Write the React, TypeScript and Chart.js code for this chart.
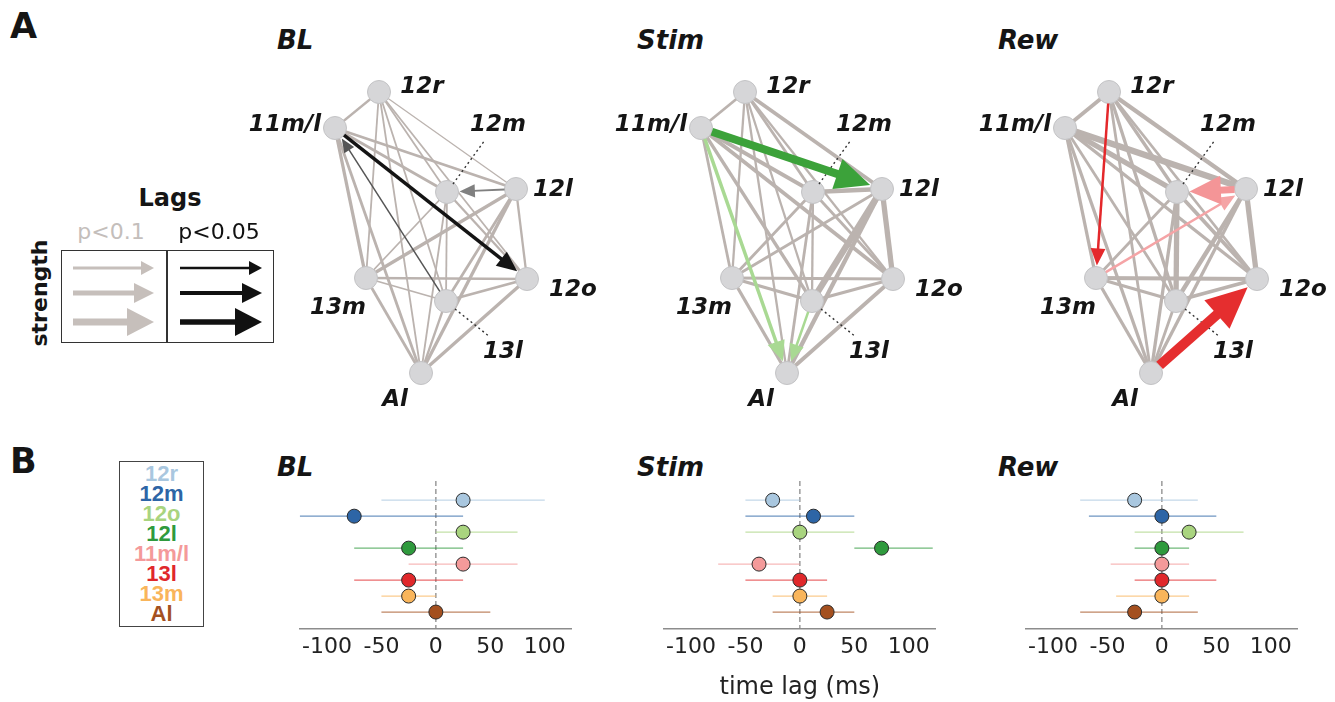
import React, { useEffect, useRef } from "react";
import { Chart, registerables } from "chart.js";
Chart.register(...registerables);
Chart.defaults.font.family = '"DejaVu Sans", sans-serif';

// ---------------- Panel A : networks ----------------
const NODE_NAMES = ["12r", "11m/l", "12m", "12l", "12o", "13m", "13l", "Al"];
const NODE_X = [44, 0, 112, 181, 192, 31, 111, 86];
const NODE_Y = [0, 36, 100, 97, 187, 186, 209, 281];

const EDGE_FROM = [0, 0, 0, 0, 0, 0, 0, 1, 1, 1, 1, 1, 1, 2, 2, 2, 2, 2, 3, 3, 3, 3, 4, 4, 4, 5, 5, 6];
const EDGE_TO = [1, 2, 3, 4, 5, 6, 7, 2, 3, 4, 5, 6, 7, 3, 4, 5, 6, 7, 4, 5, 6, 7, 5, 6, 7, 6, 7, 7];

const BL_EDGE_WIDTH = [2, 1.5, 1, 1.5, 1.5, 1.5, 1.5, 2.5, 2.5, 0, 3, 0, 2.5, 0, 2, 1.5, 1.5, 1.5, 2, 3, 2.5, 3, 2, 2.5, 3, 1.5, 2.5, 2];
const STIM_EDGE_WIDTH = [2.5, 2.5, 3.5, 2, 2, 2, 2, 3.5, 0, 3.5, 2.5, 3, 0, 4, 2.5, 2.5, 2, 2.5, 5, 2.5, 6, 4, 2.5, 3, 3.5, 3, 3, 0];
const REW_EDGE_WIDTH = [3.5, 3, 4, 2.5, 0, 3, 2.5, 5, 6, 3, 3, 2.5, 3, 0, 3.5, 2.5, 5, 3, 5, 0, 4, 3, 3.5, 3.5, 0, 3, 3, 2.5];

// significant lags (arrows): from -> to, strength
const BL_ARROW_FROM = [1, 6, 3];
const BL_ARROW_TO = [4, 1, 2];
const BL_ARROW_WIDTH = [3.5, 1.5, 2];
const BL_ARROW_COLOR = ["#141414", "#555555", "#808080"];

const STIM_ARROW_FROM = [1, 1, 6];
const STIM_ARROW_TO = [3, 7, 7];
const STIM_ARROW_WIDTH = [8, 3.5, 2.5];
const STIM_ARROW_COLOR = ["#3ca23a", "#a9d993", "#a9d993"];

const REW_ARROW_FROM = [0, 5, 3, 7];
const REW_ARROW_TO = [5, 3, 2, 4];
const REW_ARROW_WIDTH = [2.5, 2.5, 7, 10];
const REW_ARROW_COLOR = ["#e4282b", "#f5a4a6", "#f49597", "#e52e2f"];

// ---------------- Panel B : lags ----------------
const ROWS = ["12r", "12m", "12o", "12l", "11m/l", "13l", "13m", "Al"];
const ROW_COLORS = ["#a9c7df", "#2d65a6", "#a9d47f", "#2f9a3d", "#f49a9a", "#e0282b", "#f9b55b", "#a4501f"];
const LAG_TICKS = [-100, -50, 0, 50, 100];

const BL_LAG = [25, -75, 25, -25, 25, -25, -25, 0];
const BL_LO = [-50, -125, 0, -75, -25, -75, -50, -50];
const BL_HI = [100, 25, 75, 25, 75, 25, 0, 50];

const STIM_LAG = [-25, 12.5, 0, 75, -37.5, 0, 0, 25];
const STIM_LO = [-50, -50, -50, 50, -75, -50, -25, -25];
const STIM_HI = [0, 50, 50, 122, 0, 25, 25, 50];

const REW_LAG = [-25, 0, 25, 0, 0, 0, 0, -25];
const REW_LO = [-75, -67, -25, -25, -47, -25, -42, -75];
const REW_HI = [33, 50, 75, 25, 25, 50, 25, 33];

// ---------------- layout / style constants ----------------
const EDGE_COLOR = "#bbb3af";
const NODE_R = 11.5;
const LABEL_DX = [43, -50, 51, 37, 46, -28, 57, -26];
const LABEL_DY = [-5, -3, -67, 1, 11, 30, 51, 27];
const LEADERS = [
  { node: 2, x0: 6, y0: -8, x1: 38, y1: -52 },
  { node: 6, x0: 9, y0: 8, x1: 44, y1: 36 },
];

function drawArrow(ctx: CanvasRenderingContext2D, x0: number, y0: number, x1: number, y1: number,
  w: number, headLen: number, headW: number, color: string, startGap: number, endGap: number) {
  const dx = x1 - x0, dy = y1 - y0;
  const L = Math.hypot(dx, dy);
  const ux = dx / L, uy = dy / L, nx = -uy, ny = ux;
  const sx = x0 + ux * startGap, sy = y0 + uy * startGap;
  const tx = x1 - ux * endGap, ty = y1 - uy * endGap;
  const bx = tx - ux * headLen, by = ty - uy * headLen;
  ctx.save();
  ctx.strokeStyle = color;
  ctx.fillStyle = color;
  ctx.lineWidth = w;
  ctx.lineCap = "butt";
  ctx.beginPath();
  ctx.moveTo(sx, sy);
  ctx.lineTo(bx + ux * 2, by + uy * 2);
  ctx.stroke();
  ctx.beginPath();
  ctx.moveTo(tx, ty);
  ctx.lineTo(bx + nx * headW / 2, by + ny * headW / 2);
  ctx.lineTo(bx - nx * headW / 2, by - ny * headW / 2);
  ctx.closePath();
  ctx.fill();
  ctx.restore();
}

function headSize(w: number) {
  return { len: 9 + w * 3.2, wid: 7 + w * 3.1 };
}

const netPlugin = {
  id: "netDecor",
  afterDatasetsDraw(chart: any, _args: any, opts: any) {
    const { ctx } = chart;
    const sx = chart.scales.x, sy = chart.scales.y;
    const px = (i: number) => sx.getPixelForValue(NODE_X[i]);
    const py = (i: number) => sy.getPixelForValue(NODE_Y[i]);
    ctx.save();
    ctx.setLineDash([2, 3]);
    ctx.strokeStyle = "#333";
    ctx.lineWidth = 1.4;
    LEADERS.forEach((l) => {
      ctx.beginPath();
      ctx.moveTo(px(l.node) + l.x0, py(l.node) + l.y0);
      ctx.lineTo(px(l.node) + l.x1, py(l.node) + l.y1);
      ctx.stroke();
    });
    ctx.restore();
    const a = opts.arrows;
    a.from.forEach((f: number, k: number) => {
      const t = a.to[k];
      const h = headSize(a.width[k]);
      drawArrow(ctx, px(f), py(f), px(t), py(t), a.width[k], h.len, h.wid, a.color[k], NODE_R, NODE_R + 1);
    });
    ctx.save();
    ctx.font = 'italic bold 23px "DejaVu Sans"';
    ctx.fillStyle = "#151515";
    ctx.textAlign = "center";
    ctx.textBaseline = "middle";
    NODE_NAMES.forEach((n, i) => ctx.fillText(n, px(i) + LABEL_DX[i], py(i) + LABEL_DY[i]));
    ctx.restore();
  },
};

function buildNet(canvas: HTMLCanvasElement, widths: number[], arrows: any, w: number, h: number) {
  const datasets: any[] = [];
  EDGE_FROM.forEach((f, k) => {
    if (!widths[k]) return;
    const t = EDGE_TO[k];
    datasets.push({
      type: "line",
      data: [{ x: NODE_X[f], y: NODE_Y[f] }, { x: NODE_X[t], y: NODE_Y[t] }],
      borderColor: EDGE_COLOR,
      borderWidth: widths[k] + 0.3,
      pointRadius: 0,
      showLine: true,
      fill: false,
      order: 2,
    });
  });
  datasets.push({
    type: "scatter",
    data: NODE_X.map((x, i) => ({ x, y: NODE_Y[i] })),
    pointRadius: NODE_R,
    pointBackgroundColor: "#d6d6d8",
    pointBorderColor: "#c3c3c5",
    pointBorderWidth: 1,
    order: 0,
  });
  return new Chart(canvas, {
    type: "scatter",
    data: { datasets },
    options: {
      responsive: false,
      animation: false,
      events: [],
      layout: { padding: 0, autoPadding: false },
      plugins: { legend: { display: false }, tooltip: { enabled: false }, netDecor: { arrows } } as any,
      scales: {
        x: { type: "linear", display: false, min: -95, max: -95 + w },
        y: { type: "linear", display: false, min: -42, max: -42 + h, reverse: true },
      },
    },
    plugins: [netPlugin],
  } as any);
}

// legend arrows (panel A)
const LEG_Y = [17, 42, 71];
const LEG_SHAFT = [3, 5, 7];
const LEG_HEAD_LEN = [13, 20, 27];
const LEG_HEAD_W = [14, 20, 28];
const legPlugin = {
  id: "legArrows",
  afterDatasetsDraw(chart: any) {
    const { ctx } = chart;
    const sx = chart.scales.x, sy = chart.scales.y;
    LEG_Y.forEach((yy, i) => {
      const y = sy.getPixelForValue(yy);
      drawArrow(ctx, sx.getPixelForValue(11), y, sx.getPixelForValue(92), y, LEG_SHAFT[i], LEG_HEAD_LEN[i], LEG_HEAD_W[i], "#c6bfbb", 0, 0);
      drawArrow(ctx, sx.getPixelForValue(118), y, sx.getPixelForValue(200), y, LEG_SHAFT[i] * 0.8, LEG_HEAD_LEN[i], LEG_HEAD_W[i], "#111111", 0, 0);
    });
  },
};

function buildLegend(canvas: HTMLCanvasElement, w: number, h: number) {
  return new Chart(canvas, {
    type: "scatter",
    data: { datasets: [{ data: [] }] },
    options: {
      responsive: false,
      animation: false,
      events: [],
      layout: { padding: 0, autoPadding: false },
      plugins: { legend: { display: false }, tooltip: { enabled: false } },
      scales: {
        x: { type: "linear", display: false, min: 0, max: w },
        y: { type: "linear", display: false, min: 0, max: h, reverse: true },
      },
    },
    plugins: [legPlugin],
  } as any);
}

function buildDot(canvas: HTMLCanvasElement, lag: number[], lo: number[], hi: number[], showTitle: boolean) {
  const datasets: any[] = [];
  datasets.push({
    type: "line",
    data: [{ x: 0, y: -1.2 }, { x: 0, y: 8.06 }],
    borderColor: "#8a8a8a",
    borderWidth: 1.3,
    borderDash: [5, 3],
    pointRadius: 0,
    showLine: true,
    order: 3,
  });
  ROWS.forEach((_r, i) => {
    datasets.push({
      type: "line",
      data: [{ x: lo[i], y: i }, { x: hi[i], y: i }],
      borderColor: ROW_COLORS[i] + "b0",
      borderWidth: 1.3,
      pointRadius: 0,
      showLine: true,
      order: 2,
    });
  });
  datasets.push({
    type: "scatter",
    data: lag.map((v, i) => ({ x: v, y: i })),
    pointRadius: 7,
    pointBackgroundColor: ROW_COLORS,
    pointBorderColor: "#2a2a2a",
    pointBorderWidth: 1,
    clip: false,
    order: 0,
  });
  return new Chart(canvas, {
    type: "scatter",
    data: { datasets },
    options: {
      responsive: false,
      animation: false,
      events: [],
      layout: { padding: 0, autoPadding: false },
      plugins: { legend: { display: false }, tooltip: { enabled: false } },
      scales: {
        x: {
          type: "linear",
          min: -125,
          max: 125,
          afterBuildTicks: (s: any) => { s.ticks = LAG_TICKS.map((v) => ({ value: v })); },
          afterFit: (s: any) => { s.height = 73; },
          ticks: {
            callback: (v: any) => String(v),
            font: { family: '"DejaVu Sans"', size: 22 },
            color: "#222",
            padding: 5,
            maxRotation: 0,
            autoSkip: false,
          },
          grid: { display: false, drawTicks: false },
          border: { display: true, color: "#8c8c8c", width: 1.5 },
          title: {
            display: showTitle,
            text: "time lag (ms)",
            font: { family: '"DejaVu Sans"', size: 24 },
            color: "#222",
            padding: { top: 0, bottom: 0 },
          },
        },
        y: { type: "linear", display: false, min: -1.2, max: 8.06, reverse: true },
      },
    },
  } as any);
}

function ChartCanvas(props: { left: number; top: number; width: number; height: number; build: (c: HTMLCanvasElement) => Chart }) {
  const ref = useRef<HTMLCanvasElement | null>(null);
  useEffect(() => {
    const c = props.build(ref.current as HTMLCanvasElement);
    return () => c.destroy();
  }, []);
  return (
    <canvas
      ref={ref}
      width={props.width}
      height={props.height}
      style={{ position: "absolute", left: props.left, top: props.top, width: props.width, height: props.height }}
    />
  );
}

function Txt(props: { x: number; cy: number; size: number; text: string; bold?: boolean; italic?: boolean; color?: string; center?: boolean; family?: string }) {
  const fam = props.family || '"DejaVu Sans", sans-serif';
  return (
    <div
      style={{
        position: "absolute",
        left: props.x,
        top: props.cy - 0.48 * props.size,
        fontFamily: fam,
        fontSize: props.size,
        lineHeight: 1,
        fontWeight: props.bold ? "bold" : "normal",
        fontStyle: props.italic ? "italic" : "normal",
        color: props.color || "#151515",
        whiteSpace: "nowrap",
        transform: props.center ? "translateX(-50%)" : undefined,
      }}
    >
      {props.text}
    </div>
  );
}

const NET_W = 364;
const NET_H = 370;
const PANEL_OFF = [0, 366, 730];
const DOT_LEFT = [297, 661, 1023];

export default function App() {
  const nets = [
    { widths: BL_EDGE_WIDTH, arrows: { from: BL_ARROW_FROM, to: BL_ARROW_TO, width: BL_ARROW_WIDTH, color: BL_ARROW_COLOR } },
    { widths: STIM_EDGE_WIDTH, arrows: { from: STIM_ARROW_FROM, to: STIM_ARROW_TO, width: STIM_ARROW_WIDTH, color: STIM_ARROW_COLOR } },
    { widths: REW_EDGE_WIDTH, arrows: { from: REW_ARROW_FROM, to: REW_ARROW_TO, width: REW_ARROW_WIDTH, color: REW_ARROW_COLOR } },
  ];
  const dots = [
    { lag: BL_LAG, lo: BL_LO, hi: BL_HI },
    { lag: STIM_LAG, lo: STIM_LO, hi: STIM_HI },
    { lag: REW_LAG, lo: REW_LO, hi: REW_HI },
  ];
  const titles = ["BL", "Stim", "Rew"];
  const titleX = [277, 637, 998];
  return (
    <div style={{ position: "fixed", left: 0, top: 0, width: 1335, height: 702, background: "#fff", overflow: "hidden" }}>
      <Txt x={10} cy={26} size={35} text="A" bold />
      <Txt x={10} cy={461} size={35} text="B" bold />
      {titles.map((t, i) => (
        <Txt key={"ta" + t} x={titleX[i]} cy={39} size={26} text={t} bold italic />
      ))}
      {titles.map((t, i) => (
        <Txt key={"tb" + t} x={titleX[i]} cy={466} size={26} text={t} bold italic />
      ))}

      {nets.map((n, i) => (
        <ChartCanvas
          key={"net" + i}
          left={240 + PANEL_OFF[i]}
          top={50}
          width={NET_W}
          height={NET_H}
          build={(c) => buildNet(c, n.widths, n.arrows, NET_W, NET_H)}
        />
      ))}

      {/* legend A */}
      <Txt x={170} cy={198} size={24} text="Lags" bold center />
      <Txt x={111} cy={232} size={22} text="p<0.1" color="#c4bebb" center />
      <Txt x={219} cy={232} size={22} text="p<0.05" color="#111" center />
      <div
        style={{
          position: "absolute",
          left: 40,
          top: 293,
          fontFamily: '"DejaVu Sans", sans-serif',
          fontWeight: "bold",
          fontSize: 22,
          lineHeight: 1,
          whiteSpace: "nowrap",
          color: "#151515",
          transform: "translate(-50%, -50%) rotate(-90deg)",
        }}
      >
        strength
      </div>
      <div style={{ position: "absolute", left: 61, top: 250, width: 213, height: 93, border: "1.5px solid #333", boxSizing: "border-box" }} />
      <div style={{ position: "absolute", left: 166, top: 250, width: 1.5, height: 93, background: "#333" }} />
      <ChartCanvas left={62} top={251} width={211} height={91} build={(c) => buildLegend(c, 211, 91)} />

      {/* legend B */}
      <div style={{ position: "absolute", left: 119, top: 461, width: 85, height: 166, border: "1.5px solid #444", boxSizing: "border-box" }} />
      {ROWS.map((r, i) => (
        <Txt key={"lb" + r} x={161.5} cy={474 + i * 20} size={22} text={r} bold color={ROW_COLORS[i]} center family='"Liberation Sans", Arial, sans-serif' />
      ))}

      {dots.map((d, i) => (
        <ChartCanvas
          key={"dot" + i}
          left={DOT_LEFT[i]}
          top={481}
          width={275}
          height={221}
          build={(c) => buildDot(c, d.lag, d.lo, d.hi, i === 1)}
        />
      ))}
    </div>
  );
}
